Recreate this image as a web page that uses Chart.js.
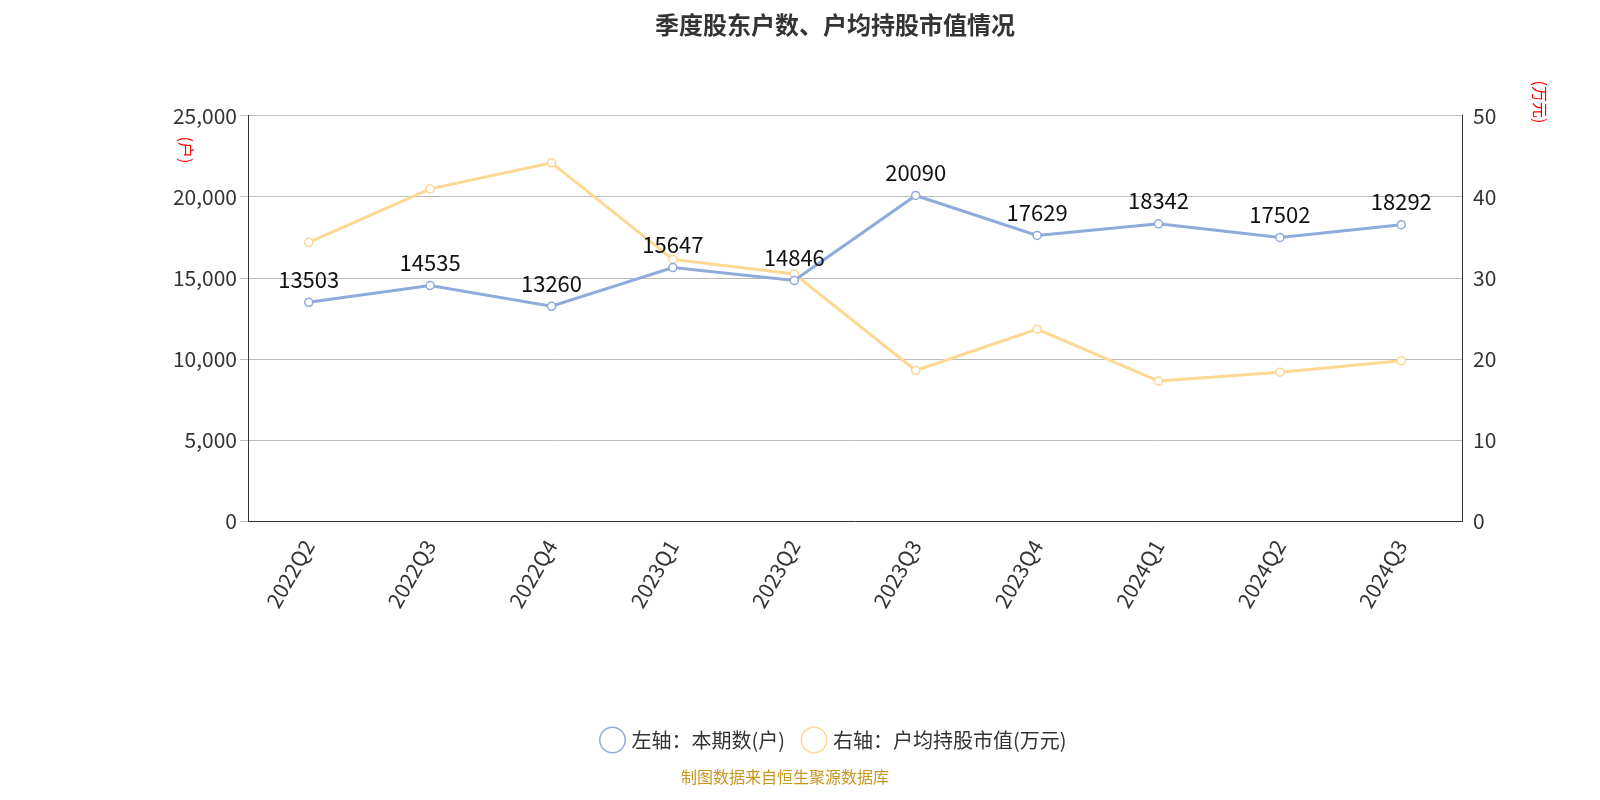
<!DOCTYPE html>
<html><head><meta charset="utf-8">
<script src="https://cdn.jsdelivr.net/npm/chart.js@4/dist/chart.umd.min.js"></script>
<style>body{margin:0;background:#fff}#w{width:1600px;height:800px;position:relative}
#src{position:absolute;left:0;width:1570px;top:764px;text-align:center;color:#c8961e;font:16px "Noto Sans CJK SC"}</style>
</head><body><div id="w"><canvas id="c" width="1600" height="800"></canvas><div id="src">制图数据来自恒生聚源数据库</div></div>
<script>
const categories=['2022Q2','2022Q3','2022Q4','2023Q1','2023Q2','2023Q3','2023Q4','2024Q1','2024Q2','2024Q3'];
const holders=[13503,14535,13260,15647,14846,20090,17629,18342,17502,18292];
const avgValue=[34.4,41.0,44.2,32.3,30.5,18.6,23.7,17.3,18.4,19.8];
const leftTicks=[0,5000,10000,15000,20000,25000];
const rightTicks=[0,10,20,30,40,50];
const F='"Noto Sans CJK SC","Noto Sans",sans-serif';
const extra={id:'extra',afterDraw(ch){const c=ch.ctx;c.save();c.fillStyle='red';c.font='16px '+F;
 c.translate(186,150);c.rotate(Math.PI/2);c.textAlign='center';c.textBaseline='middle';c.fillText('(户)',0,0);c.restore();
 c.save();c.fillStyle='red';c.font='16px '+F;c.translate(1540,102);c.rotate(Math.PI/2);c.textAlign='center';c.textBaseline='middle';c.fillText('(万元)',0,0);c.restore();
 const m=ch.getDatasetMeta(0);c.save();c.font='22px '+F;c.fillStyle='#111';c.textAlign='center';c.textBaseline='bottom';
 m.data.forEach((p,i)=>c.fillText(holders[i],p.x,p.y-12));c.restore();}};
new Chart(document.getElementById('c'),{type:'line',
data:{labels:categories,datasets:[
{label:'左轴：本期数(户)',data:holders,yAxisID:'y',borderColor:'#8eabdb',backgroundColor:'#fff',borderWidth:3,pointRadius:4,pointBorderWidth:1.5,pointBorderColor:'#8eabdb',tension:0},
{label:'右轴：户均持股市值(万元)',data:avgValue,yAxisID:'y1',borderColor:'#fdd892',backgroundColor:'#fff',borderWidth:3,pointRadius:4,pointBorderWidth:1.5,pointBorderColor:'#fdd892',tension:0}]},
options:{responsive:false,animation:false,
layout:{padding:{left:150,right:80,top:6,bottom:40}},
plugins:{title:{display:true,text:'季度股东户数、户均持股市值情况',font:{size:24,weight:'bold',family:F},color:'#333',padding:{top:4,bottom:77}},
legend:{position:'bottom',labels:{usePointStyle:true,pointStyle:'circle',boxWidth:18,boxHeight:18,font:{size:20,family:F},color:'#333',padding:20},padding:30},tooltip:{enabled:false}},
scales:{x:{offset:true,afterFit:a=>{a.height+=92},grid:{display:false,drawTicks:true},border:{color:'#333'},ticks:{maxRotation:60,minRotation:60,font:{size:21,family:F},color:'#333',padding:6}},
y:{position:'left',min:0,max:25000,afterFit:a=>{a.width=98},afterBuildTicks:a=>{a.ticks=leftTicks.map(v=>({value:v}))},grid:{color:'#bbb',tickLength:8},border:{color:'#333'},ticks:{font:{size:21,family:F},color:'#333',callback:v=>v.toLocaleString('en-US')}},
y1:{position:'right',min:0,max:50,afterFit:a=>{a.width=58},afterBuildTicks:a=>{a.ticks=rightTicks.map(v=>({value:v}))},grid:{display:false,tickLength:8},border:{color:'#333'},ticks:{font:{size:21,family:F},color:'#333'}}}},
plugins:[extra]});
</script></body></html>
